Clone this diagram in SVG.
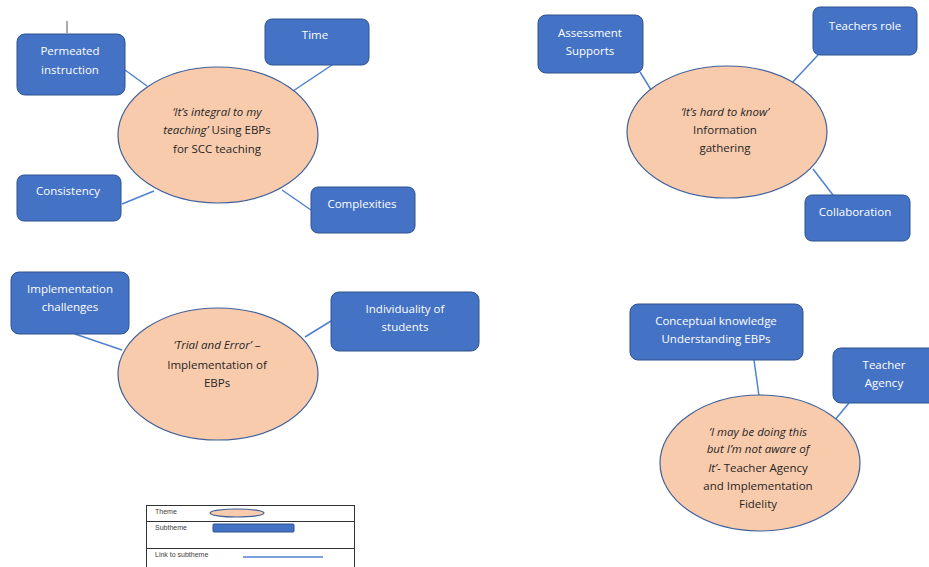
<svg xmlns="http://www.w3.org/2000/svg" width="929" height="567" viewBox="0 0 929 567">
  <style>
    .box { fill: #4472C4; stroke: #2F528F; stroke-width: 1; }
    .theme { fill: #F8CBAD; stroke: #41609A; stroke-width: 1.2; }
    .link { stroke: #4F81CF; stroke-width: 1.5; fill: none; }
    .bt { font-family: "Open Sans", "Liberation Sans", sans-serif; font-size: 11.5px; fill: #FFFFFF; text-anchor: middle; }
    .tt { font-family: "Open Sans", "Liberation Sans", sans-serif; font-size: 11.5px; fill: #262626; text-anchor: middle; }
    .it { font-style: italic; }
    .lg { font-family: "Liberation Sans", sans-serif; font-size: 7px; fill: #404040; }
    .rule { stroke: #333333; stroke-width: 1; }
  </style>

  <rect width="929" height="567" fill="#FFFFFF"/>

  <!-- connectors between themes and subthemes -->
  <g id="connectors">
    <line class="link" x1="125" y1="70" x2="147" y2="86"/>
    <line class="link" x1="332" y1="65" x2="293" y2="91"/>
    <line class="link" x1="122" y1="204" x2="154" y2="191"/>
    <line class="link" x1="311" y1="210" x2="282" y2="190"/>
    <line class="link" x1="640" y1="72" x2="653" y2="93"/>
    <line class="link" x1="818" y1="55" x2="790" y2="85"/>
    <line class="link" x1="813" y1="169" x2="833" y2="195"/>
    <line class="link" x1="75" y1="334" x2="122" y2="350"/>
    <line class="link" x1="331" y1="321" x2="305" y2="337"/>
    <line class="link" x1="754" y1="360" x2="759" y2="396"/>
    <line class="link" x1="849" y1="403" x2="834" y2="421"/>
  </g>

  <!-- text cursor mark -->
  <line x1="67" y1="21" x2="67" y2="33" stroke="#555555" stroke-width="1"/>

  <!-- Theme 1 -->
  <g id="theme-integral">
    <ellipse class="theme" cx="218" cy="135" rx="100" ry="68"/>
    <text class="tt it" x="217" y="116">‘It’s integral to my</text>
    <text class="tt" x="217" y="134"><tspan class="it">teaching’</tspan> Using EBPs</text>
    <text class="tt" x="217" y="153">for SCC teaching</text>
  </g>
  <g id="sub-permeated">
    <rect class="box" x="17" y="34" width="108" height="61" rx="8"/>
    <text class="bt" x="70" y="55">Permeated</text>
    <text class="bt" x="70" y="74">instruction</text>
  </g>
  <g id="sub-time">
    <rect class="box" x="265" y="19" width="104" height="46" rx="7"/>
    <text class="bt" x="315" y="39">Time</text>
  </g>
  <g id="sub-consistency">
    <rect class="box" x="17" y="175" width="104" height="46" rx="7"/>
    <text class="bt" x="68" y="195">Consistency</text>
  </g>
  <g id="sub-complexities">
    <rect class="box" x="311" y="187" width="104" height="46" rx="7"/>
    <text class="bt" x="362" y="208">Complexities</text>
  </g>

  <!-- Theme 2 -->
  <g id="theme-hard-to-know">
    <ellipse class="theme" cx="727" cy="132" rx="100" ry="66"/>
    <text class="tt it" x="725" y="116">‘It’s hard to know’</text>
    <text class="tt" x="725" y="134">Information</text>
    <text class="tt" x="725" y="152">gathering</text>
  </g>
  <g id="sub-assessment">
    <rect class="box" x="538" y="15" width="105" height="58" rx="8"/>
    <text class="bt" x="590" y="37">Assessment</text>
    <text class="bt" x="590" y="55">Supports</text>
  </g>
  <g id="sub-teachers-role">
    <rect class="box" x="813" y="7" width="104" height="48" rx="7"/>
    <text class="bt" x="865" y="30">Teachers role</text>
  </g>
  <g id="sub-collaboration">
    <rect class="box" x="805" y="195" width="105" height="46" rx="7"/>
    <text class="bt" x="855" y="216">Collaboration</text>
  </g>

  <!-- Theme 3 -->
  <g id="theme-trial-error">
    <ellipse class="theme" cx="218" cy="374" rx="100" ry="66"/>
    <text class="tt" x="217" y="349"><tspan class="it">‘Trial and Error’</tspan> –</text>
    <text class="tt" x="217" y="369">Implementation of</text>
    <text class="tt" x="217" y="387">EBPs</text>
  </g>
  <g id="sub-implementation">
    <rect class="box" x="11" y="272" width="118" height="62" rx="8"/>
    <text class="bt" x="70" y="293">Implementation</text>
    <text class="bt" x="70" y="311">challenges</text>
  </g>
  <g id="sub-individuality">
    <rect class="box" x="331" y="292" width="148" height="59" rx="8"/>
    <text class="bt" x="405" y="313">Individuality of</text>
    <text class="bt" x="405" y="331">students</text>
  </g>

  <!-- Theme 4 -->
  <g id="theme-not-aware">
    <ellipse class="theme" cx="760" cy="463" rx="100" ry="68"/>
    <text class="tt it" x="758" y="436">‘I may be doing this</text>
    <text class="tt it" x="758" y="453">but I’m not aware of</text>
    <text class="tt" x="758" y="472"><tspan class="it">It’</tspan>- Teacher Agency</text>
    <text class="tt" x="758" y="490">and Implementation</text>
    <text class="tt" x="758" y="508">Fidelity</text>
  </g>
  <g id="sub-conceptual">
    <rect class="box" x="630" y="304" width="173" height="56" rx="8"/>
    <text class="bt" x="716" y="325">Conceptual knowledge</text>
    <text class="bt" x="716" y="343">Understanding EBPs</text>
  </g>
  <g id="sub-teacher-agency">
    <rect class="box" x="833" y="348" width="104" height="55" rx="8"/>
    <text class="bt" x="884" y="369">Teacher</text>
    <text class="bt" x="884" y="387">Agency</text>
  </g>

  <!-- Key -->
  <g id="legend">
    <line class="rule" x1="146" y1="505.5" x2="355" y2="505.5"/>
    <line class="rule" x1="146" y1="521.5" x2="355" y2="521.5"/>
    <line class="rule" x1="146" y1="548.5" x2="355" y2="548.5"/>
    <line class="rule" x1="146.5" y1="505" x2="146.5" y2="567"/>
    <line class="rule" x1="354.5" y1="505" x2="354.5" y2="567"/>
    <text class="lg" x="155" y="514">Theme</text>
    <ellipse class="theme" cx="237" cy="513" rx="27" ry="4"/>
    <text class="lg" x="155" y="530">Subtheme</text>
    <rect class="box" x="213" y="524" width="81" height="8" rx="1"/>
    <text class="lg" x="155" y="557">Link to subtheme</text>
    <line class="link" x1="243" y1="557" x2="323" y2="557" stroke-width="1"/>
  </g>
</svg>
